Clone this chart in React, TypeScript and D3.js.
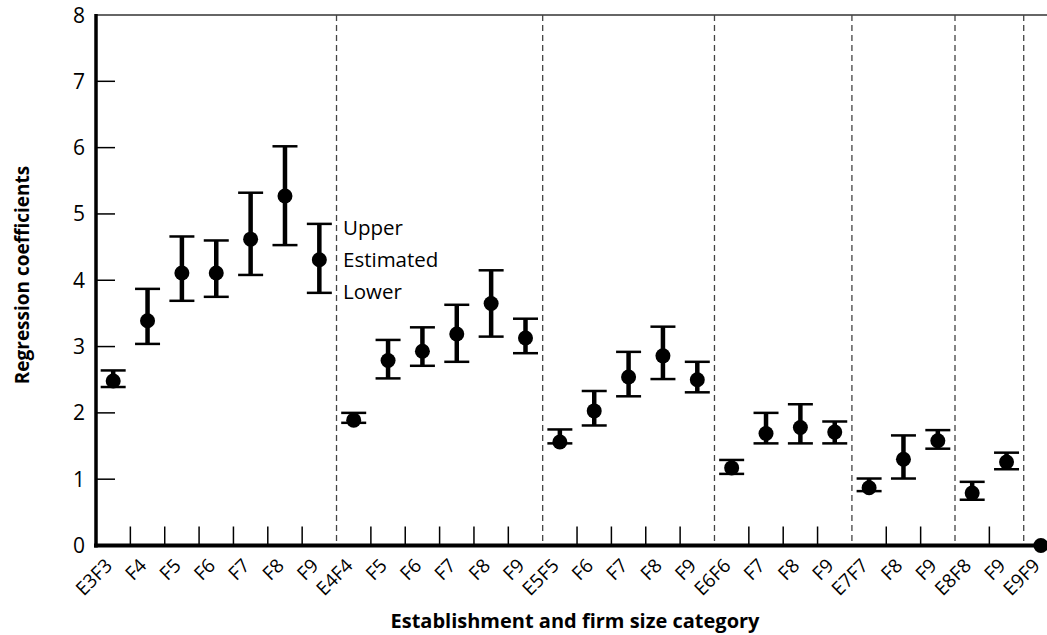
import React from 'react';
import * as d3 from 'd3';

// category labels (establishment x firm size)
const categories = [
  'E3F3', 'F4', 'F5', 'F6', 'F7', 'F8', 'F9',
  'E4F4', 'F5', 'F6', 'F7', 'F8', 'F9',
  'E5F5', 'F6', 'F7', 'F8', 'F9',
  'E6F6', 'F7', 'F8', 'F9',
  'E7F7', 'F8', 'F9',
  'E8F8', 'F9',
  'E9F9',
];
const estimated = [
  2.48, 3.39, 4.11, 4.11, 4.62, 5.27, 4.31,
  1.89, 2.79, 2.93, 3.19, 3.65, 3.13,
  1.56, 2.03, 2.54, 2.86, 2.5,
  1.17, 1.69, 1.78, 1.71,
  0.87, 1.3, 1.58,
  0.79, 1.26,
  0,
];
const upper = [
  2.64, 3.87, 4.66, 4.6, 5.32, 6.02, 4.85,
  2.0, 3.1, 3.29, 3.63, 4.15, 3.42,
  1.75, 2.33, 2.92, 3.3, 2.77,
  1.29, 2.0, 2.13, 1.87,
  1.01, 1.66, 1.74,
  0.96, 1.4,
  0,
];
const lower = [
  2.39, 3.04, 3.69, 3.75, 4.08, 4.53, 3.81,
  1.85, 2.52, 2.71, 2.77, 3.15, 2.9,
  1.54, 1.81, 2.25, 2.51, 2.31,
  1.08, 1.54, 1.54, 1.54,
  0.82, 1.01, 1.46,
  0.69, 1.15,
  0,
];
const groupStarts = [7, 13, 18, 22, 25, 27];
const yTicks = [0, 1, 2, 3, 4, 5, 6, 7, 8];
const legendLabels = ['Upper', 'Estimated', 'Lower'];

const width = 1047;
const height = 635;
const font = "'Open Sans', 'Noto Sans', sans-serif";

const App = () => {
  const idx = categories.map((_, i) => i);
  const x = d3.scaleBand<number>().domain(idx).range([96, 96 + 28 * 34.36]).paddingInner(0).paddingOuter(0);
  const y = d3.scaleLinear().domain([0, 8]).range([545.5, 15]);
  const bw = x.bandwidth();
  const y0 = y(0);
  const yTop = y(8);

  return (
    <svg width={width} height={height} style={{ position: 'absolute', left: 0, top: 0, background: '#fff' }} fontFamily={font}>
      {/* top border */}
      <line x1={96} x2={width} y1={yTop} y2={yTop} stroke="#333" strokeWidth={1.5} />
      {/* group dividers */}
      {groupStarts.map((g) => (
        <line key={g} x1={x(g)!} x2={x(g)!} y1={yTop} y2={y0} stroke="#444" strokeWidth={1.3} strokeDasharray="6,4" />
      ))}
      {/* x ticks (inside) */}
      {idx.filter((i) => i > 0 && !groupStarts.includes(i)).map((i) => (
        <line key={i} x1={x(i)!} x2={x(i)!} y1={y0} y2={y0 - 19} stroke="#000" strokeWidth={1.5} />
      ))}
      {/* y ticks */}
      {yTicks.map((t) => (
        <g key={t}>
          {t > 0 && t < 8 && <line x1={96} x2={115} y1={y(t)} y2={y(t)} stroke="#000" strokeWidth={1.5} />}
          <text x={85} y={y(t)} dy="0.36em" textAnchor="end" fontSize={21}>{t}</text>
        </g>
      ))}
      {/* error bars */}
      {idx.filter((i) => upper[i] > lower[i]).map((i) => {
        const cx = x(i)! + bw / 2;
        return (
          <g key={i} stroke="#000">
            <line x1={cx} x2={cx} y1={y(upper[i])} y2={y(lower[i])} strokeWidth={4.5} />
            <line x1={cx - 12.5} x2={cx + 12.5} y1={y(upper[i])} y2={y(upper[i])} strokeWidth={2.5} />
            <line x1={cx - 12.5} x2={cx + 12.5} y1={y(lower[i])} y2={y(lower[i])} strokeWidth={2.5} />
          </g>
        );
      })}
      {/* axes */}
      <line x1={96} x2={96} y1={yTop - 1} y2={y0 + 2} stroke="#000" strokeWidth={3.5} />
      <line x1={94} x2={x(27)! + bw / 2} y1={y0} y2={y0} stroke="#000" strokeWidth={4} />
      {/* points */}
      {idx.map((i) => (
        <circle key={i} cx={x(i)! + bw / 2} cy={y(estimated[i])} r={7.5} fill="#000" />
      ))}
      {/* x tick labels */}
      {idx.map((i) => (
        <text key={i} transform={`translate(${x(i)! + 8},${y0 + 12}) rotate(-45)`} textAnchor="end" dy="0.7em" fontSize={19}>
          {categories[i]}
        </text>
      ))}
      {/* annotation */}
      {legendLabels.map((l, k) => (
        <text key={l} x={343} y={235 + k * 32} fontSize={20.5}>{l}</text>
      ))}
      {/* axis titles */}
      <text transform={`translate(29,275) rotate(-90)`} textAnchor="middle" fontSize={19} fontWeight="bold">
        Regression coefficients
      </text>
      <text x={575} y={628} textAnchor="middle" fontSize={20} fontWeight="bold">
        Establishment and firm size category
      </text>
    </svg>
  );
};

export default App;
